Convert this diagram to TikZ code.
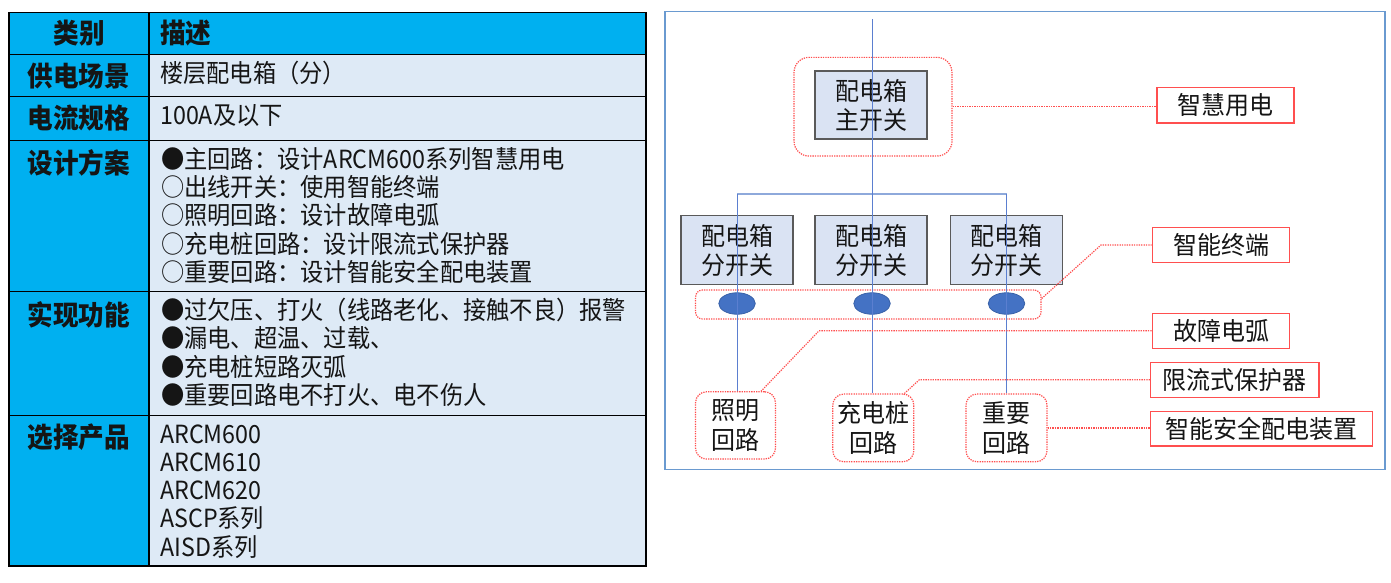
\documentclass[tikz,border=0pt]{standalone}
\usepackage{fontspec}
\setmainfont{Noto Sans CJK SC}[FakeStretch=0.93]
\newfontfamily\diafont{Noto Sans CJK SC}[FakeStretch=0.96]
\usetikzlibrary{shapes.geometric}
\definecolor{cyanc}{HTML}{00B0F0}
\definecolor{cellc}{HTML}{DEEAF6}
\definecolor{txtc}{HTML}{151515}
\definecolor{boxfill}{HTML}{DAE3F3}
\definecolor{boxline}{HTML}{5A5A5A}
\definecolor{wirec}{HTML}{5B7FD0}
\definecolor{busc}{HTML}{8EA9DB}
\definecolor{redc}{HTML}{FF4F4F}
\definecolor{framec}{HTML}{6A9AD0}
\definecolor{ellc}{HTML}{4472C4}
\definecolor{ellline}{HTML}{3A62A8}
\begin{document}
\begin{tikzpicture}[x=1pt,y=-1pt,
  hd/.style={inner sep=0pt,text=txtc,font=\fontsize{27.5}{30}\selectfont\bfseries},
  cell/.style={inner sep=0pt,anchor=west,text=txtc,font=\fontsize{25}{28}\selectfont},
  swbox/.style={draw=boxline,line width=1.3pt,fill=boxfill,align=center,inner sep=0pt,
    font=\diafont\fontsize{25}{29}\selectfont,text=txtc},
  redgrp/.style={draw=redc,line width=1.2pt,dash pattern=on 1.3pt off 1.1pt,inner sep=0pt},
  circbox/.style={redgrp,fill=white,rounded corners=11pt,align=center,
    font=\diafont\fontsize{25}{30}\selectfont,text=txtc},
  lbl/.style={draw=redc,line width=1.4pt,fill=white,inner sep=0pt,
    font=\diafont\fontsize{25}{29}\selectfont,text=txtc},
  reddot/.style={draw=redc,line width=1.2pt,dash pattern=on 1.3pt off 1.1pt},
  wire/.style={draw=wirec,line width=0.9pt},
  bus/.style={draw=busc,line width=1.8pt},
  blob/.style={ellipse,fill=ellc,draw=ellline,line width=0.8pt,minimum width=36.5pt,minimum height=21.5pt,inner sep=0pt}
]
\useasboundingbox (0,0) rectangle (1391,582);
% ---------------- table ----------------
\fill[cyanc] (9,12.3) rectangle (646,54.3);
\fill[cyanc] (9,54.3) rectangle (149,566);
\fill[cellc] (149,54.3) rectangle (646,566);
\draw[black,line width=1.2pt] (9,12.3) rectangle (646,566);
\foreach \yy in {54.3,96.7,140.3,291.7,415.3}{\draw[black,line width=1.2pt] (9,\yy) -- (646,\yy);}
\draw[black,line width=1.2pt] (149,12.3) -- (149,566);

\node[hd] (h1) at (79,33.3) {类别};
\node[hd,anchor=west] (h2) at (160,33.3) {描述};
\node[hd] (c1) at (79,76) {供电场景};
\node[hd] (c2) at (79,118.5) {电流规格};
\node[hd] (c3) at (79,162.5) {设计方案};
\node[hd] (c4) at (79,314.5) {实现功能};
\node[hd] (c5) at (79,437.5) {选择产品};

\node[cell] (r1) at (160,73) {楼层配电箱（分）};
\node[cell] (r2) at (160,116) {100A及以下};
\node[cell] (d1) at (161,159.5) {●主回路：设计ARCM600系列智慧用电};
\node[cell] (d2) at (161,187.5) {○出线开关：使用智能终端};
\node[cell] (d3) at (161,215.5) {○照明回路：设计故障电弧};
\node[cell] (d4) at (161,243.5) {○充电桩回路：设计限流式保护器};
\node[cell] (d5) at (161,271.5) {○重要回路：设计智能安全配电装置};
\node[cell] (f1) at (161,310) {●过欠压、打火（线路老化、接触不良）报警};
\node[cell] (f2) at (161,338.3) {●漏电、超温、过载、};
\node[cell] (f3) at (161,366.7) {●充电桩短路灭弧};
\node[cell] (f4) at (161,395) {●重要回路电不打火、电不伤人};
\node[cell] (p1) at (160,434) {ARCM600};
\node[cell] (p2) at (160,462.3) {ARCM610};
\node[cell] (p3) at (160,490) {ARCM620};
\node[cell] (p4) at (160,518.3) {ASCP系列};
\node[cell] (p5) at (160,546.7) {AISD系列};

% ---------------- diagram ----------------
\draw[framec,line width=1.3pt] (665,11.7) rectangle (1385,469.3);

\node[redgrp,rounded corners=15pt,minimum width=158pt,minimum height=98.7pt] (mainGrp) at (873,106.7) {};
\node[redgrp,rounded corners=7pt,minimum width=345.5pt,minimum height=29pt] (ellGrp) at (868.3,304.5) {};

\node[swbox,minimum width=112pt,minimum height=68pt] (mainBox) at (871,105) {配电箱\\主开关};
\node[swbox,minimum width=112pt,minimum height=68.6pt] (fen1) at (737,250) {配电箱\\分开关};
\node[swbox,minimum width=112pt,minimum height=68.6pt] (fen2) at (871,250) {配电箱\\分开关};
\node[swbox,minimum width=112pt,minimum height=68.6pt] (fen3) at (1006.5,250) {配电箱\\分开关};

\node[blob] (e1) at (737,303.5) {};
\node[blob] (e2) at (872,303.5) {};
\node[blob] (e3) at (1006.5,303.5) {};

\node[circbox,minimum width=80pt,minimum height=67.3pt] (zhaoming) at (735.5,425.4) {照明\\回路};
\node[circbox,minimum width=81pt,minimum height=67.7pt] (chongdian) at (873.3,427.9) {充电桩\\回路};
\node[circbox,minimum width=81pt,minimum height=67.7pt] (zhongyao) at (1006.5,427.9) {重要\\回路};

\node[lbl,minimum width=137pt,minimum height=35.7pt] (zhihui) at (1225.5,105.2) {智慧用电};
\node[lbl,minimum width=137.5pt,minimum height=35.4pt] (zhineng) at (1221,245) {智能终端};
\node[lbl,minimum width=137.5pt,minimum height=35pt] (guzhang) at (1221,330.8) {故障电弧};
\node[lbl,minimum width=168.3pt,minimum height=35pt] (xianliu) at (1234.8,379.8) {限流式保护器};
\node[lbl,minimum width=222pt,minimum height=34.3pt] (anquan) at (1261.6,428.9) {智能安全配电装置};

% wires (drawn over boxes as in the reference)
\coordinate (top) at (872,19);
\coordinate (busc) at (872,194);
\draw[bus] (fen1.north |- busc) -- (fen3.north |- busc);
\draw[wire] (top) -- (top |- chongdian.north);
\draw[wire] (fen1.north |- busc) -- (fen1.north |- zhaoming.north);
\draw[wire] (fen3.north |- busc) -- (fen3.north |- zhongyao.north);

% red dotted leaders
\draw[reddot] (mainGrp.east) -- (mainGrp.east -| zhihui.west);
\coordinate (k1) at (1101,245);
\draw[reddot] ([yshift=6pt]ellGrp.east) -- (k1) -- (zhineng.west);
\coordinate (k2) at (819,330.8);
\draw[reddot] (guzhang.west) -- (k2) -- ([xshift=-15pt]zhaoming.north east);
\coordinate (k3) at (919.3,379.8);
\draw[reddot] (xianliu.west) -- (k3) -- ([xshift=-10pt]chongdian.north east);
\draw[reddot] (zhongyao.east) -- (zhongyao.east -| anquan.west);
\end{tikzpicture}
\end{document}
